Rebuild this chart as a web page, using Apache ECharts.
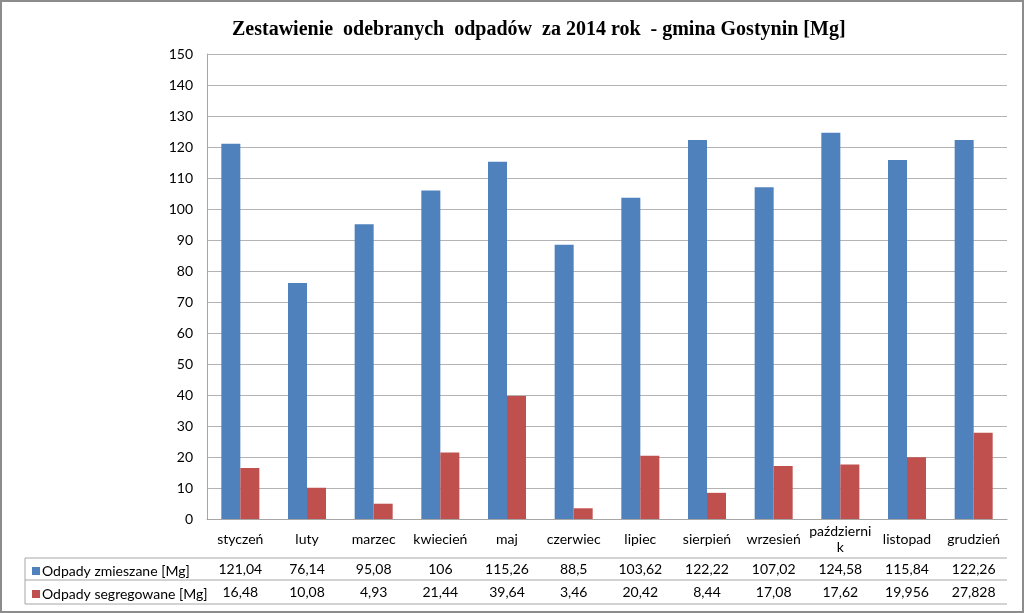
<!DOCTYPE html>
<html><head><meta charset="utf-8">
<script src="https://cdn.jsdelivr.net/npm/echarts@6/dist/echarts.min.js"></script>
<style>html,body{margin:0;padding:0;background:#fff}#c{width:1024px;height:613px}</style>
</head><body><div id="c"></div>
<script>
const categories = ['styczeń','luty','marzec','kwiecień','maj','czerwiec','lipiec','sierpień','wrzesień','październik','listopad','grudzień'];
const seriesNames = ['Odpady zmieszane [Mg]','Odpady segregowane [Mg]'];
const zmieszane = [121.04,76.14,95.08,106,115.26,88.5,103.62,122.22,107.02,124.58,115.84,122.26];
const segregowane = [16.48,10.08,4.93,21.44,39.64,3.46,20.42,8.44,17.08,17.62,19.956,27.828];
const yTicks = {min:0, max:150, interval:10};
const titleText = 'Zestawienie  odebranych  odpadów  za 2014 rok  - gmina Gostynin [Mg]';

const fmt = v => String(v).replace('.', ',');
const FONT = 'Lato';
const FS = 14;
const L = 207, R = 1007, T = 54, B = 519;
const tableLeft = 25, row1 = 558, row2 = 580, row3 = 604;
const gridColor = '#a6a6a6';

const chart = echarts.init(document.getElementById('c'));
const valAxis = (data, offset, margin) => ({
  type:'category', data: data.map(fmt), position:'bottom', offset: offset, gridIndex:0,
  axisLine:{show:false}, axisTick:{show:false},
  axisLabel:{interval:0, margin: margin, verticalAlign:'middle', color:'#000', fontFamily:FONT, fontSize:FS}
});
chart.setOption({
  animation:false,
  title:{text:titleText, left:227, top:15, textStyle:{fontFamily:'Liberation Serif', fontWeight:'bold', fontSize:20, color:'#000'}},
  legend:{orient:'vertical', left:27, top:559, itemWidth:8, itemHeight:8, itemGap:9, icon:'rect',
    textStyle:{fontFamily:FONT, fontSize:FS, color:'#000', padding:[0,0,0,-3]}, selectedMode:false,
    data: seriesNames},
  grid:{left:L, right:1024-R, top:T, bottom:613-B},
  xAxis:[
    {type:'category', data:categories, position:'bottom',
      axisLine:{lineStyle:{color:gridColor}},
      axisTick:{length:row3-B, lineStyle:{color:gridColor}},
      axisLabel:{interval:0, margin:20, verticalAlign:'middle', color:'#000', fontFamily:FONT, fontSize:FS, lineHeight:16,
        formatter: s => s.length > 10 ? s.slice(0,10) + '\n' + s.slice(10) : s}},
    valAxis(zmieszane, 39, 11),
    valAxis(segregowane, 61, 12)
  ],
  yAxis:{type:'value', min:yTicks.min, max:yTicks.max, interval:yTicks.interval,
    axisLine:{show:true, lineStyle:{color:gridColor}}, axisTick:{show:false},
    axisLabel:{margin:14, color:'#000', fontFamily:FONT, fontSize:FS},
    splitLine:{lineStyle:{color:'#b3b3b3'}}},
  series:[
    {name:seriesNames[0], type:'bar', data:zmieszane, xAxisIndex:0, itemStyle:{color:'#4f81bd'}, barWidth:19, barGap:'0%'},
    {name:seriesNames[1], type:'bar', data:segregowane, xAxisIndex:0, itemStyle:{color:'#c0504d'}, barWidth:19, barGap:'0%'}
  ],
  graphic:[
    {type:'rect', shape:{x:1, y:1, width:1022, height:611}, style:{fill:'none', stroke:'#8c8c8c', lineWidth:2}, silent:true},
    {type:'line', shape:{x1:tableLeft, y1:row1, x2:R, y2:row1}, style:{stroke:gridColor, lineWidth:1}},
    {type:'line', shape:{x1:tableLeft, y1:row2, x2:R, y2:row2}, style:{stroke:gridColor, lineWidth:1}},
    {type:'line', shape:{x1:tableLeft, y1:row3, x2:R, y2:row3}, style:{stroke:gridColor, lineWidth:1}},
    {type:'line', shape:{x1:tableLeft, y1:row1, x2:tableLeft, y2:row3}, style:{stroke:gridColor, lineWidth:1}}
  ]
});
</script></body></html>
